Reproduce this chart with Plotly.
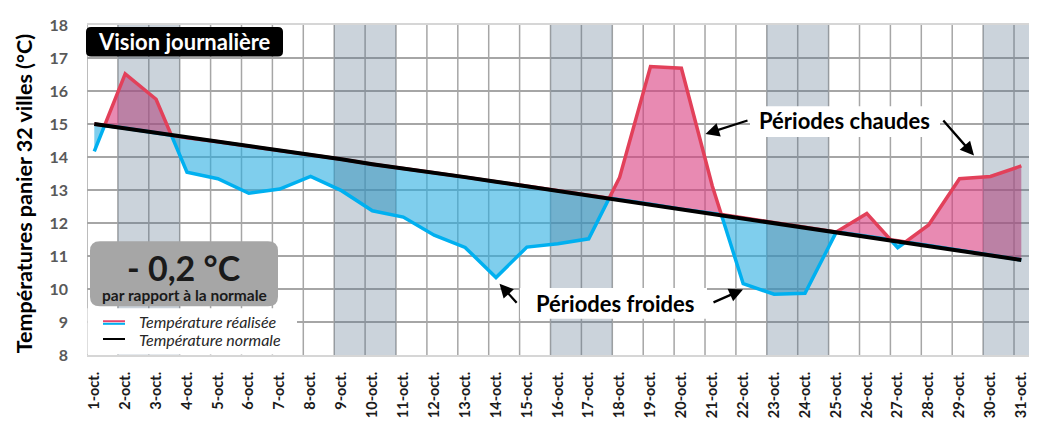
import plotly.graph_objects as go

# ---------------- data ----------------
days = list(range(1, 32))
day_labels = [f"{d}-oct." for d in days]
realized = [14.17, 16.52, 15.75, 13.54, 13.34, 12.90, 13.03, 13.41, 12.98, 12.37,
            12.18, 11.63, 11.26, 10.35, 11.27, 11.37, 11.52, 13.38, 16.74, 16.69,
            13.12, 10.16, 9.84, 9.87, 11.72, 12.29, 11.25, 11.94, 13.34, 13.41, 13.73]
normal = [15.00, 14.87, 14.74, 14.58, 14.46, 14.33, 14.20, 14.07, 13.93, 13.78,
          13.66, 13.52, 13.39, 13.25, 13.11, 12.98, 12.84, 12.71, 12.57, 12.42,
          12.30, 12.15, 12.01, 11.87, 11.73, 11.60, 11.46, 11.32, 11.18, 11.03, 10.88]
weekend_days = [2, 3, 9, 10, 16, 17, 23, 24, 30, 31]
y_ticks = list(range(8, 19))
anomaly_text = "- 0,2 °C"

# ---------------- geometry ----------------
BODY = 8                       # default page margin of the html body
PL, PT, PR, PB = 87, 15, 1029, 360   # plot area in page pixels
W, H = 1037 - BODY, 425 - BODY
ML, MT = PL - BODY, PT - BODY
MR = W - (PR - BODY)
MB = H - (PB - BODY)
PW, PH = PR - PL, PB - PT
GRID_OFF = 0.236
X0, X1 = 1 - GRID_OFF, 31.249
FONT = "Lato"


def px(x):
    return (x - PL) / PW


def py(y):
    return (PB - y) / PH


# upper (max) / lower (min) envelopes with exact crossing points
xs, up, lo, nn = [], [], [], []
for i in range(len(days)):
    d, r, m = days[i], realized[i], normal[i]
    xs.append(d); up.append(max(r, m)); lo.append(min(r, m)); nn.append(m)
    if i < len(days) - 1:
        d2, r2, m2 = days[i + 1], realized[i + 1], normal[i + 1]
        a, b = r - m, r2 - m2
        if a * b < 0:
            t = a / (a - b)
            xc = d + t * (d2 - d)
            yc = m + t * (m2 - m)
            xs.append(xc); up.append(yc); lo.append(yc); nn.append(yc)

fig = go.Figure()
fig.add_trace(go.Scatter(x=xs, y=nn, mode="lines", line=dict(width=0), hoverinfo="skip"))
fig.add_trace(go.Scatter(x=xs, y=up, mode="lines", line=dict(width=0), fill="tonexty",
                         fillcolor="rgba(217,60,127,0.6)", hoverinfo="skip"))
fig.add_trace(go.Scatter(x=xs, y=nn, mode="lines", line=dict(width=0), hoverinfo="skip"))
fig.add_trace(go.Scatter(x=xs, y=lo, mode="lines", line=dict(width=0), fill="tonexty",
                         fillcolor="rgba(42,173,225,0.6)", hoverinfo="skip"))

# weekend bands
bx, by = [], []
i = 0
while i < len(weekend_days):
    start = weekend_days[i]
    end = start
    while i + 1 < len(weekend_days) and weekend_days[i + 1] == end + 1:
        i += 1
        end = weekend_days[i]
    a, b = start - GRID_OFF, end + 1 - GRID_OFF
    bx += [a, b, b, a, a, None]
    by += [8, 8, 18, 18, 8, None]
    i += 1
fig.add_trace(go.Scatter(x=bx, y=by, mode="lines", line=dict(width=0), fill="toself",
                         fillcolor="rgba(82,108,135,0.3)", hoverinfo="skip"))

fig.add_trace(go.Scatter(x=xs, y=lo, mode="lines", line=dict(color="#00b0f0", width=3.5)))
fig.add_trace(go.Scatter(x=xs, y=up, mode="lines", line=dict(color="#e2405a", width=3.5)))
fig.add_trace(go.Scatter(x=days, y=normal, mode="lines", line=dict(color="#000000", width=4)))

shapes = []
# vertical grid lines
for d in days:
    shapes.append(dict(type="line", xref="x", yref="y", x0=d - GRID_OFF, x1=d - GRID_OFF,
                       y0=8, y1=18, line=dict(color="#a6a6a6", width=1.5), layer="between"))


def rrect(x0, y0, x1, y1, r):
    pts = [("M", x0 + r, y0), ("L", x1 - r, y0), ("Q", x1, y0, x1, y0 + r),
           ("L", x1, y1 - r), ("Q", x1, y1, x1 - r, y1), ("L", x0 + r, y1),
           ("Q", x0, y1, x0, y1 - r), ("L", x0, y0 + r), ("Q", x0, y0, x0 + r, y0)]
    out = []
    for p in pts:
        cmd = p[0]
        coords = p[1:]
        s = []
        for k in range(0, len(coords), 2):
            s.append(f"{px(coords[k]):.5f},{py(coords[k+1]):.5f}")
        out.append(cmd + " " + " ".join(s))
    return " ".join(out) + " Z"


# legend white box
shapes.append(dict(type="rect", xref="paper", yref="paper", x0=px(87.5), x1=px(297),
                   y0=py(311), y1=py(359.5), fillcolor="white", line=dict(width=0), layer="above"))
# grey anomaly box
shapes.append(dict(type="path", xref="paper", yref="paper", path=rrect(90, 241, 278, 309, 10),
                   fillcolor="#a6a6a6", line=dict(width=0), layer="above"))
# title box
shapes.append(dict(type="path", xref="paper", yref="paper", path=rrect(86, 17, 283, 48, 5),
                   fillcolor="#000000", line=dict(width=0), layer="above"))
# annotation white boxes
shapes.append(dict(type="rect", xref="paper", yref="paper", x0=px(750), x1=px(940),
                   y0=py(100), y1=py(132), fillcolor="white", line=dict(width=0), layer="above"))
shapes.append(dict(type="rect", xref="paper", yref="paper", x0=px(520), x1=px(707),
                   y0=py(290), y1=py(322), fillcolor="white", line=dict(width=0), layer="above"))
# legend samples
shapes.append(dict(type="line", xref="paper", yref="paper", x0=px(103), x1=px(125),
                   y0=py(324.7), y1=py(324.7), line=dict(color="#e8436a", width=2), layer="above"))
shapes.append(dict(type="line", xref="paper", yref="paper", x0=px(103), x1=px(125),
                   y0=py(327.4), y1=py(327.4), line=dict(color="#00b0f0", width=2), layer="above"))
shapes.append(dict(type="line", xref="paper", yref="paper", x0=px(103), x1=px(125),
                   y0=py(343.3), y1=py(343.3), line=dict(color="#000000", width=2), layer="above"))

ann = []


def text(x, y, t, size, color="#000000", weight="bold", style="normal", anchor="center", angle=0):
    ann.append(dict(xref="paper", yref="paper", x=px(x), y=py(y), text=t, showarrow=False,
                    xanchor=anchor, yanchor="middle", textangle=angle,
                    font=dict(family=FONT, size=size, color=color, weight=weight, style=style)))


def arrow(tx, ty, hx, hy):
    ann.append(dict(xref="paper", yref="paper", x=px(hx), y=py(hy), ax=tx - hx, ay=ty - hy,
                    text="", showarrow=True, arrowhead=2, arrowsize=1.2, arrowwidth=2.3,
                    arrowcolor="#000000"))


text(24, 192, "Températures panier 32 villes (°C)", 21.5, angle=-90)
text(184.5, 32.5, "Vision journalière", 22, color="#ffffff")
text(184, 268, anomaly_text, 34, color="#1a1a1a")
text(184, 297.5, "par rapport à la normale", 15.5, color="#1a1a1a")
text(136.5, 325, "Température réalisée", 16, color="#262626", weight="normal", style="italic", anchor="left")
text(136.5, 343.5, "Température normale", 16, color="#262626", weight="normal", style="italic", anchor="left")
text(844.5, 115, "Périodes chaudes", 22)
text(614.5, 306.5, "Périodes froides", 22)
arrow(518, 306, 499.5, 285.5)
arrow(712, 305, 743, 291.5)
arrow(749, 115, 705.5, 129)
arrow(942, 115, 974, 151.5)

fig.update_layout(
    width=W, height=H,
    margin=dict(l=ML, r=MR, t=MT, b=MB, pad=0),
    paper_bgcolor="white", plot_bgcolor="white",
    showlegend=False,
    shapes=shapes, annotations=ann,
    xaxis=dict(range=[X0, X1], tickmode="array", tickvals=days, ticktext=day_labels,
               tickangle=-90, showgrid=False, zeroline=False,
               showline=True, mirror=True, linecolor="#d6d6d6", linewidth=2,
               ticks="", ticklabelstandoff=9,
               tickfont=dict(family=FONT, size=14.5, color="#1a1a1a", weight="bold")),
    yaxis=dict(range=[8, 18], tickmode="array", tickvals=y_ticks,
               showgrid=True, gridcolor="#a6a6a6", gridwidth=1.5, zeroline=False,
               ticks="", ticklabelstandoff=18, ticklabeloverflow="allow",
               tickfont=dict(family=FONT, size=16, color="#595959", weight="bold")),
)

fig.write_html("out.html")
